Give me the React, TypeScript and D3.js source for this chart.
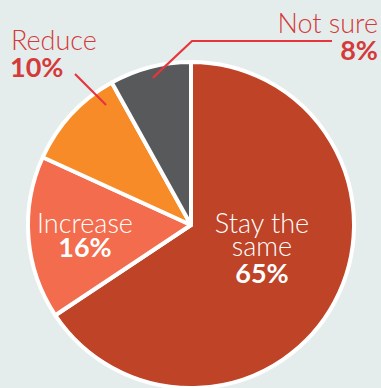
import React from "react";
import * as d3 from "d3";

const categories = ["Stay the same", "Increase", "Reduce", "Not sure"];
const values = [65, 16, 10, 8];
const valueLabels = ["65%", "16%", "10%", "8%"];
const colors = ["#BE4327", "#F26C4D", "#F68B28", "#58595B"];

const W = 381;
const H = 388;
const cx = 191;
const cy = 225;
const R = 163;
const labelRed = "#D53A3B";
const leaderRed = "#E8343C";
const fontFamily = "Lato, 'Open Sans', sans-serif";
const FS = 27;

export default function App() {
  const data = categories.map((c, i) => ({ name: c, value: values[i], label: valueLabels[i], color: colors[i] }));
  const pie = d3.pie<any>().sort(null).value((d: any) => d.value).startAngle(0).endAngle(2 * Math.PI);
  const arcs = pie(data);
  const arc = d3.arc<any>().innerRadius(0).outerRadius(R);

  const polar = (angle: number, r: number) => [cx + r * Math.sin(angle), cy - r * Math.cos(angle)];

  const notSure = arcs[3];
  const reduce = arcs[2];
  const nsMid = (notSure.startAngle + notSure.endAngle) / 2;
  const nsStart = polar(nsMid, 152);
  const redAng = reduce.startAngle + (reduce.endAngle - reduce.startAngle) * 0.83;
  const redStart = polar(redAng, 147);

  return (
    <svg width={W} height={H} style={{ position: "absolute", left: 0, top: 0, background: "#E4EDEC" }}>
      <rect x={0} y={0} width={W} height={H} fill="#E4EDEC" />
      <g transform={`translate(${cx},${cy})`}>
        {arcs.map((a, i) => (
          <path key={i} d={arc(a) as string} fill={a.data.color} stroke="#FFFFFF" strokeWidth={4} strokeLinejoin="round" />
        ))}
      </g>
      <polyline
        points={`${nsStart[0]},${nsStart[1]} 192,41 332,41`}
        fill="none"
        stroke={leaderRed}
        strokeWidth={2.2}
      />
      <line x1={redStart[0]} y1={redStart[1]} x2={75} y2={74} stroke={leaderRed} strokeWidth={2.2} />

      <g fontFamily={fontFamily} fontSize={FS}>
        <text x={11} y={50} fill={labelRed} fontWeight={300}>{categories[2]}</text>
        <text x={10} y={77} fill={labelRed} fontWeight={700}>{valueLabels[2]}</text>
        <text x={378} y={33} fill={labelRed} fontWeight={300} textAnchor="end">{categories[3]}</text>
        <text x={378} y={60} fill={labelRed} fontWeight={700} textAnchor="end">{valueLabels[3]}</text>
        <text x={85} y={233} fill="#FFFFFF" fontWeight={300} textAnchor="middle">{categories[1]}</text>
        <text x={85} y={257} fill="#FFFFFF" fontWeight={700} textAnchor="middle">{valueLabels[1]}</text>
        <text x={262} y={233} fill="#FFFFFF" fontWeight={300} textAnchor="middle">Stay the</text>
        <text x={262} y={256} fill="#FFFFFF" fontWeight={300} textAnchor="middle">same</text>
        <text x={262} y={283} fill="#FFFFFF" fontWeight={700} textAnchor="middle">{valueLabels[0]}</text>
      </g>
    </svg>
  );
}
